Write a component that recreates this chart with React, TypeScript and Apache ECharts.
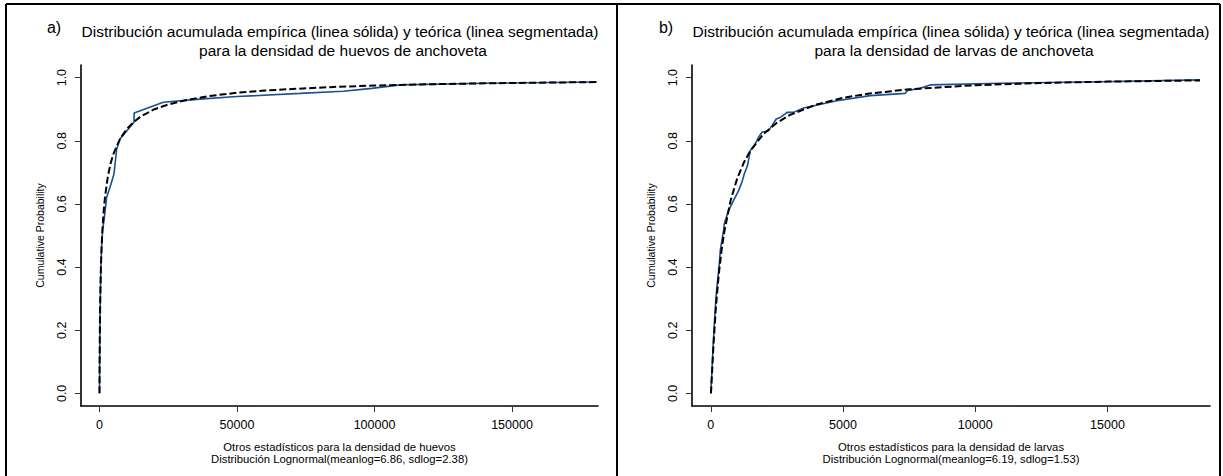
import React, { useEffect, useRef } from "react";
import * as echarts from "echarts";

// ---------- data ----------
const eggEmpirical: [number, number][] = [
  [0, 0], [50, 0.08], [150, 0.2], [300, 0.3], [500, 0.4], [800, 0.47], [1160, 0.52],
  [1640, 0.547], [2600, 0.621], [3820, 0.653], [5270, 0.695], [6250, 0.774],
  [7450, 0.806], [10500, 0.837], [12545, 0.859], [12600, 0.888], [23200, 0.922],
  [36500, 0.932], [50000, 0.94], [72900, 0.95], [88650, 0.957], [99000, 0.966],
  [109270, 0.977], [140000, 0.982], [180800, 0.986],
];
const eggTheoretical: [number, number][] = [
  [0, 0], [10, 0.028], [30, 0.073], [50, 0.108], [100, 0.172], [200, 0.256],
  [300, 0.314], [500, 0.393], [750, 0.46], [1000, 0.508], [1500, 0.575],
  [2000, 0.622], [3000, 0.685], [4000, 0.727], [5000, 0.757], [7500, 0.807],
  [10000, 0.838], [12500, 0.86], [15000, 0.877], [20000, 0.9], [25000, 0.915],
  [30000, 0.926], [40000, 0.942], [50000, 0.952], [60000, 0.959], [70000, 0.964],
  [85000, 0.9704], [100000, 0.975], [120000, 0.979], [140000, 0.982],
  [160000, 0.984], [180800, 0.986],
];
const larvaEmpirical: [number, number][] = [
  [0, 0], [60, 0.1], [120, 0.2], [197, 0.305], [333, 0.42], [359, 0.4525],
  [484, 0.516], [510, 0.537], [673, 0.579], [862, 0.611], [1051, 0.642],
  [1178, 0.669], [1266, 0.695], [1391, 0.722], [1493, 0.769], [1644, 0.785],
  [1807, 0.811], [1935, 0.827], [2185, 0.832], [2313, 0.848], [2475, 0.869],
  [2627, 0.874], [2816, 0.885], [2880, 0.89], [3129, 0.89], [3507, 0.904],
  [4769, 0.927], [6028, 0.943], [7351, 0.95], [7438, 0.959], [7918, 0.966],
  [8295, 0.977], [10940, 0.982], [14720, 0.987], [18500, 0.993],
];
const larvaTheoretical: [number, number][] = [
  [0, 0], [10, 0.0055], [20, 0.018], [50, 0.068], [100, 0.15], [200, 0.28],
  [300, 0.375], [400, 0.448], [500, 0.507], [750, 0.611], [1000, 0.681],
  [1250, 0.731], [1500, 0.769], [2000, 0.822], [2500, 0.857], [3000, 0.882],
  [4000, 0.915], [5000, 0.936], [6000, 0.9495], [7500, 0.963], [10000, 0.976],
  [12500, 0.983], [15000, 0.9874], [18500, 0.9912],
];
const eggTicks = [0, 50000, 100000, 150000];
const larvaTicks = [0, 5000, 10000, 15000];
const probTicks = [0, 0.2, 0.4, 0.6, 0.8, 1.0];

const titleLine1 = "Distribución acumulada empírica (linea sólida) y teórica (linea segmentada)";
const eggTitle2 = "para la densidad de huevos de anchoveta";
const larvaTitle2 = "para la densidad de larvas de anchoveta";
const eggXName = "Otros estadísticos para la densidad de huevos\nDistribución Lognormal(meanlog=6.86, sdlog=2.38)";
const larvaXName = "Otros estadísticos para la densidad de larvas\nDistribución Lognormal(meanlog=6.19, sdlog=1.53)";
const yName = "Cumulative Probability";

const FONT = "'Liberation Sans', Arial, Helvetica, sans-serif";
const BLUE = "#1c4f94";

function xAxisFor(grid: number, min: number, max: number, ticks: number[], name: string) {
  return {
    type: "value",
    gridIndex: grid,
    min,
    max,
    name,
    nameLocation: "middle",
    nameGap: 35,
    nameTextStyle: { fontSize: 11.3, lineHeight: 12, color: "#000", fontFamily: FONT },
    axisLine: { show: true, onZero: false, lineStyle: { color: "#000", width: 1.6 } },
    axisTick: { show: true, length: 6, customValues: ticks, lineStyle: { color: "#333", width: 1 } },
    axisLabel: {
      customValues: ticks,
      color: "#000",
      fontSize: 12.5,
      fontFamily: FONT,
      margin: 12,
      formatter: (v: number) => String(v),
    },
    splitLine: { show: false },
  };
}

function yAxisFor(grid: number) {
  return {
    type: "value",
    gridIndex: grid,
    min: -0.04,
    max: 1.04,
    name: yName,
    nameLocation: "middle",
    nameGap: 36,
    nameRotate: 90,
    nameTextStyle: { fontSize: 10.5, color: "#000", fontFamily: FONT },
    axisLine: { show: true, onZero: false, lineStyle: { color: "#000", width: 1.6 } },
    axisTick: { show: true, length: 6, customValues: probTicks, lineStyle: { color: "#333", width: 1 } },
    axisLabel: {
      customValues: probTicks,
      rotate: 90,
      color: "#000",
      fontSize: 12.5,
      fontFamily: FONT,
      margin: 13,
      formatter: (v: number) => v.toFixed(1),
    },
    splitLine: { show: false },
  };
}

export default function App() {
  const ref = useRef<HTMLDivElement>(null);
  useEffect(() => {
    document.body.style.margin = "0";
    const chart = echarts.init(ref.current!, undefined, { renderer: "svg" });
    const txt = (x: number, y: number, text: string, size: number) => ({
      type: "text",
      x,
      y,
      style: {
        text,
        fontSize: size,
        fontFamily: FONT,
        fill: "#000",
        align: "center",
        verticalAlign: "middle",
      },
    });
    const ln = (x1: number, y1: number, x2: number, y2: number) => ({
      type: "line",
      shape: { x1, y1, x2, y2 },
      style: { stroke: "#000", lineWidth: 2 },
    });
    chart.setOption({
      animation: false,
      backgroundColor: "#fff",
      textStyle: { fontFamily: FONT },
      grid: [
        { left: 81, top: 65, width: 517, height: 341 },
        { left: 692, top: 65, width: 518, height: 341 },
      ],
      xAxis: [
        xAxisFor(0, -6727, 181273, eggTicks, eggXName),
        xAxisFor(1, -710, 18878, larvaTicks, larvaXName),
      ],
      yAxis: [yAxisFor(0), yAxisFor(1)],
      series: [
        {
          type: "line", xAxisIndex: 0, yAxisIndex: 0, data: eggEmpirical, showSymbol: false,
          lineStyle: { color: BLUE, width: 1.6 }, z: 2,
        },
        {
          type: "line", xAxisIndex: 0, yAxisIndex: 0, data: eggTheoretical, showSymbol: false,
          lineStyle: { color: "#000", width: 2, type: [7, 3] }, z: 3,
        },
        {
          type: "line", xAxisIndex: 1, yAxisIndex: 1, data: larvaEmpirical, showSymbol: false,
          lineStyle: { color: BLUE, width: 1.6 }, z: 2,
        },
        {
          type: "line", xAxisIndex: 1, yAxisIndex: 1, data: larvaTheoretical, showSymbol: false,
          lineStyle: { color: "#000", width: 2, type: [7, 3] }, z: 3,
        },
      ],
      graphic: [
        ln(6, 4, 1220, 4),
        ln(6, 4, 6, 476),
        ln(617, 4, 617, 476),
        ln(1220, 4, 1220, 476),
        txt(54, 27, "a)", 16),
        txt(340, 31, titleLine1, 15.5),
        txt(343, 50, eggTitle2, 15.5),
        txt(666, 27, "b)", 16),
        txt(951, 31, titleLine1, 15.5),
        txt(954, 50, larvaTitle2, 15.5),
      ],
    });
    return () => chart.dispose();
  }, []);
  return <div ref={ref} style={{ width: 1223, height: 476 }} />;
}
